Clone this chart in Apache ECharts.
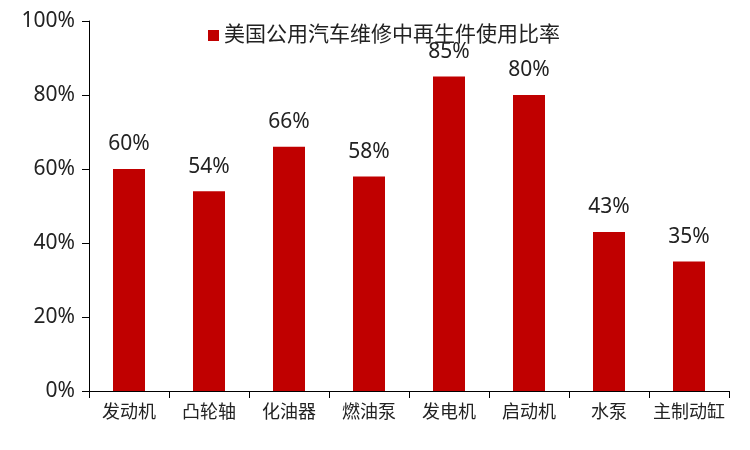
<!DOCTYPE html>
<html><head><meta charset="utf-8">
<script src="https://cdn.jsdelivr.net/npm/echarts@6/dist/echarts.min.js"></script>
<style>html,body{margin:0;padding:0;background:#fff}#c{width:750px;height:450px}</style>
</head><body><div id="c"></div>
<script>
const categories = ['发动机','凸轮轴','化油器','燃油泵','发电机','启动机','水泵','主制动缸'];
const seriesName = '美国公用汽车维修中再生件使用比率';
const values = [60,54,66,58,85,80,43,35];
const yTicks = [0,20,40,60,80,100];
const FONT = "'Noto Sans', 'Noto Sans CJK SC', sans-serif";
const chart = echarts.init(document.getElementById('c'));
chart.setOption({
  animation:false,
  backgroundColor:'#fff',
  legend:{
    data:[seriesName], left:203, top:20, itemWidth:11, itemHeight:11, itemGap:6,
    icon:'rect',
    textStyle:{fontFamily:FONT, fontSize:21, color:'#222'}
  },
  grid:{left:89, right:21, top:21, bottom:59, containLabel:false},
  xAxis:{
    type:'category', data:categories,
    axisLine:{lineStyle:{color:'#000', width:1}},
    axisTick:{show:true, alignWithLabel:false, interval:0, length:7, lineStyle:{color:'#000'}},
    axisLabel:{interval:0, fontFamily:FONT, fontSize:18, color:'#222', margin:13}
  },
  yAxis:{
    type:'value', min:yTicks[0], max:yTicks[yTicks.length-1], interval:20,
    axisLine:{show:true, lineStyle:{color:'#000', width:1}},
    axisTick:{show:true, length:7, lineStyle:{color:'#000'}},
    splitLine:{show:false},
    axisLabel:{fontFamily:FONT, fontSize:21, color:'#222', margin:14, formatter:'{value}%'}
  },
  series:[{
    name:seriesName, type:'bar', data:values, barWidth:32,
    itemStyle:{color:'#C00000'},
    label:{show:true, position:'top', distance:14, fontFamily:FONT, fontSize:21, color:'#222', formatter:'{c}%'}
  }]
});
</script></body></html>
